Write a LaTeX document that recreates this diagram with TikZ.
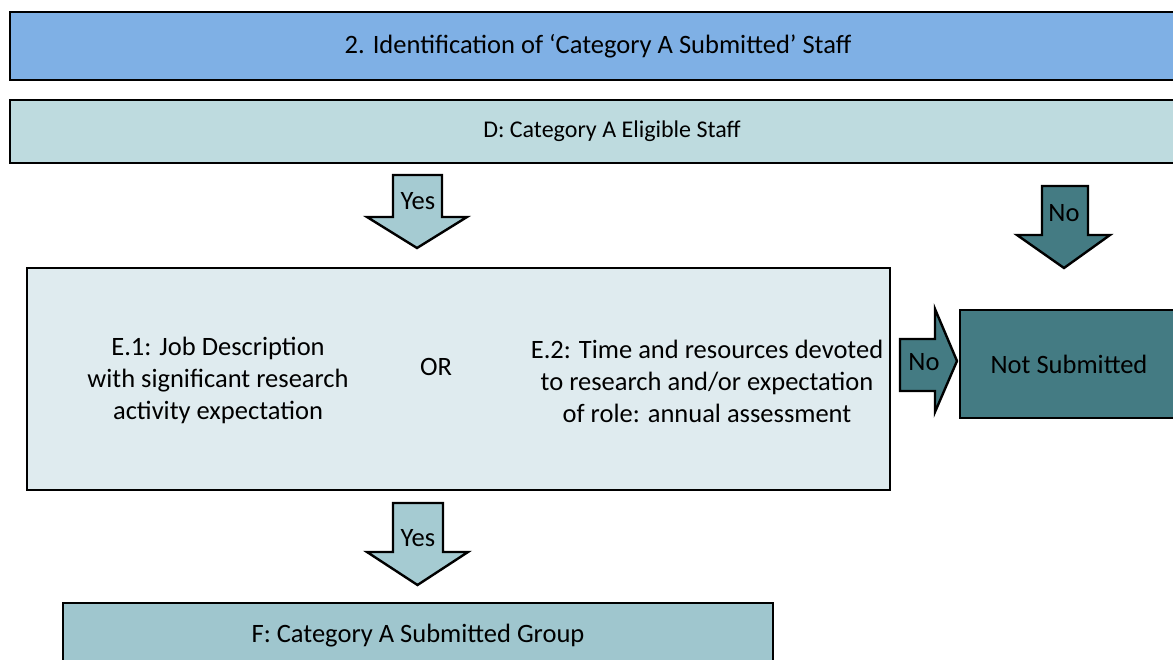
\documentclass[tikz,border=0pt]{standalone}
\usepackage{fontspec}
\setmainfont{Carlito}
\usetikzlibrary{positioning}

\definecolor{headblue}{HTML}{7FB0E5}
\definecolor{eligible}{HTML}{BEDBDF}
\definecolor{yesfill}{HTML}{A5CBD2}
\definecolor{critfill}{HTML}{DFEBEF}
\definecolor{nofill}{HTML}{447B83}
\definecolor{groupfill}{HTML}{9FC6CE}

\begin{document}
\begin{tikzpicture}[x=1pt,y=-1pt,font=\fontsize{26.5}{32}\selectfont,
        box/.style={draw, line width=2.4pt, inner sep=0pt},
        blockarrow/.style={draw, line width=2.4pt, line join=miter}]
        \useasboundingbox (0,0) rectangle (1173,660);
        \clip (0,0) rectangle (1173,660);

        % stage boxes
        \node[box, fill=headblue, minimum width=1176pt, minimum height=68pt] (ident) at (598,46) {2. Identification of ‘Category A Submitted’ Staff};
        \node[box, fill=eligible, minimum width=1204pt, minimum height=63pt, font=\fontsize{24}{32}\selectfont] (elig) at (612,131.5) {D: Category A Eligible Staff};
        \node[box, fill=critfill, minimum width=863pt, minimum height=222pt] (crit) at (458.5,379) {};
        \node[box, fill=nofill, minimum width=218pt, minimum height=108pt] (notsub) at (1069,364) {Not Submitted};
        \node[box, fill=groupfill, minimum width=710pt, minimum height=66pt] (group) at (418,636) {F: Category A Submitted Group};

        % criteria texts
        \node[align=center] (jobdesc) at (218,380) {E.1: Job Description\\with significant research\\activity expectation};
        \node (or) at (436,367) {OR};
        \node[align=center] (timeres) at (707,381) {E.2: Time and resources devoted\\to research and/or expectation\\of role: annual assessment};

        % block arrows
        \draw[blockarrow, fill=yesfill] (393,175) -- (442,175) -- (442,217) -- (467,217) -- (417,248) -- (367,217) -- (393,217) -- cycle;
        \node (yesa) at (418,201) {Yes};
        \draw[blockarrow, fill=nofill] (1042,186) -- (1088,186) -- (1088,235) -- (1110,235) -- (1064,268) -- (1017,235) -- (1042,235) -- cycle;
        \node (noa) at (1064,213) {No};
        \draw[blockarrow, fill=nofill] (900,339) -- (935,339) -- (935,309) -- (957,361) -- (935,412) -- (935,391) -- (900,391) -- cycle;
        \node (nob) at (924,362) {No};
        \draw[blockarrow, fill=yesfill] (393,503) -- (443,503) -- (443,552) -- (468,552) -- (417.5,585) -- (367,552) -- (393,552) -- cycle;
        \node (yesb) at (418,538) {Yes};
\end{tikzpicture}
\end{document}
